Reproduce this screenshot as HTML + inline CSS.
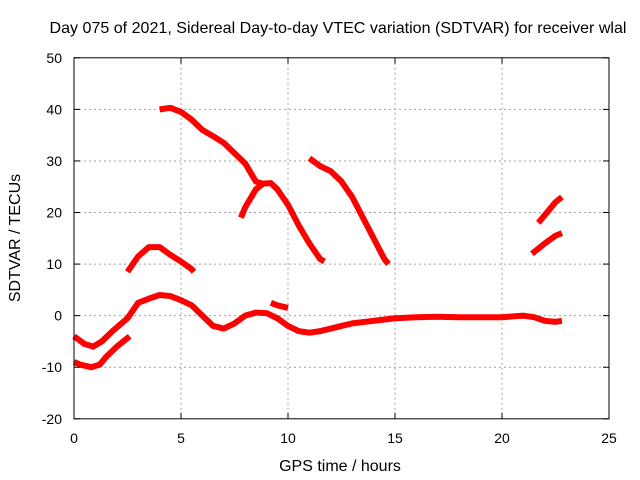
<!DOCTYPE html>
<html><head><meta charset="utf-8"><style>
body{margin:0;background:#fff;}
svg{display:block;font-family:"Liberation Sans",sans-serif;}
</style></head><body>
<svg id="chart" width="640" height="480">
<text x="338" y="33" font-size="16" text-anchor="middle" textLength="577" lengthAdjust="spacingAndGlyphs">Day 075 of 2021, Sidereal Day-to-day VTEC variation (SDTVAR) for receiver wlal</text>
<text x="340" y="471" font-size="16" text-anchor="middle">GPS time / hours</text>
<text transform="translate(20,238) rotate(-90)" font-size="16" text-anchor="middle">SDTVAR / TECUs</text>
<g id="grid"></g><g id="series"></g><g id="axes"></g>
</svg>
<script>
const xTicks=[0,5,10,15,20,25];
const yTicks=[-20,-10,0,10,20,30,40,50];
const segA=[[4.0,40],[4.5,40.3],[5,39.5],[5.5,38],[6,36],[6.5,34.8],[7,33.5],[7.5,31.5],[8,29.5],[8.5,26],[8.8,25.6],[9.2,25.7],[9.5,24.5],[10,21.5],[10.5,17.5],[11,14],[11.5,11],[11.7,10.5]];
const segB=[[7.8,19],[8.0,21],[8.5,24.5],[8.9,25.8]];
const segC=[[11,30.5],[11.5,29],[12,28],[12.5,26],[13,23],[13.5,19],[14,15],[14.5,11],[14.7,10]];
const segD=[[2.5,8.5],[3,11.5],[3.5,13.3],[4,13.3],[4.5,11.8],[5,10.5],[5.5,9],[5.6,8.5]];
const segE=[[21.7,18],[22,19.5],[22.5,22],[22.8,23]];
const segF=[[21.4,12],[22,14],[22.5,15.5],[22.8,16]];
const segG=[[0,-9],[0.3,-9.5],[0.8,-10],[1.2,-9.5],[1.5,-8],[2,-6],[2.6,-4]];
const segH=[[0,-4],[0.5,-5.5],[0.9,-6],[1.3,-5],[1.8,-3],[2.5,-0.5],[3,2.5],[3.5,3.3],[4,4],[4.5,3.8],[5,3],[5.5,2],[6,0],[6.5,-2],[7,-2.5],[7.5,-1.5],[8,0],[8.5,0.6],[9,0.5],[9.5,-0.5],[10,-2],[10.5,-3],[11,-3.3],[11.5,-3],[12,-2.5],[12.5,-2],[13,-1.5],[14,-1],[15,-0.5],[16,-0.3],[17,-0.2],[18,-0.3],[19,-0.3],[20,-0.3],[21,0],[21.5,-0.3],[22,-1],[22.5,-1.2],[22.8,-1]];
const segI=[[9.2,2.5],[9.5,2],[10,1.5]];
const segments=[segA,segB,segC,segD,segE,segF,segG,segH,segI];
const X0=74,X1=609,Y0=418.8,Y1=57.8;
const sx=v=>X0+(v-0)/(25-0)*(X1-X0);
const sy=v=>Y0-(v+20)/(50+20)*(Y0-Y1);
const NS="http://www.w3.org/2000/svg";
const g=document.getElementById('grid'),s=document.getElementById('series'),a=document.getElementById('axes');
function mk(t,at,p){const e=document.createElementNS(NS,t);for(const k in at)e.setAttribute(k,at[k]);p.appendChild(e);return e;}
xTicks.forEach(t=>{
 if(t>0&&t<25){const l=mk('line',{x1:sx(t),x2:sx(t),y1:Y1,y2:Y0,stroke:'#a0a0a0','stroke-dasharray':'2,3'},g);
 
 }
 mk('line',{x1:sx(t),x2:sx(t),y1:Y0,y2:Y0-6,stroke:'#000'},a);
 mk('line',{x1:sx(t),x2:sx(t),y1:Y1,y2:Y1+6,stroke:'#000'},a);
 const tx=mk('text',{x:sx(t),y:Y0+24,'font-size':14,'text-anchor':'middle'},a);tx.textContent=t;
 
 
});
yTicks.forEach(t=>{
 if(t>-20&&t<50){const l=mk('line',{x1:X0,x2:X1,y1:sy(t),y2:sy(t),stroke:'#a0a0a0','stroke-dasharray':'2,3'},g);
 
 }
 mk('line',{x1:X0,x2:X0+6,y1:sy(t),y2:sy(t),stroke:'#000'},a);
 mk('line',{x1:X1,x2:X1-6,y1:sy(t),y2:sy(t),stroke:'#000'},a);
 const tx=mk('text',{x:X0-12,y:sy(t)+5,'font-size':14,'text-anchor':'end'},a);tx.textContent=t;
 
 
});
const fr=mk('rect',{x:X0,y:Y1,width:X1-X0,height:Y0-Y1,fill:'none',stroke:'#000'},a);


segments.forEach(seg=>{
 const p=mk('polyline',{points:seg.map(d=>sx(d[0])+','+sy(d[1])).join(' '),fill:'none',stroke:'#ff0000','stroke-width':6,'stroke-linejoin':'round'},s);
 
 
});
</script>
</body></html>
